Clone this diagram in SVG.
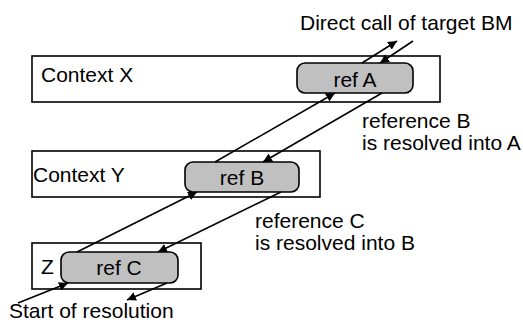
<svg xmlns="http://www.w3.org/2000/svg" width="523" height="327" viewBox="0 0 523 327">
  <defs>
    <marker id="arrow" viewBox="0 0 10 10" refX="10" refY="5" markerWidth="9" markerHeight="9" markerUnits="userSpaceOnUse" orient="auto">
      <path d="M0,0 L10,5 L0,10 z" fill="#000"/>
    </marker>
  </defs>
  <style>
    .ctx { fill: #fff; stroke: #000; stroke-width: 1.6; }
    .ref { fill: #c0c0c0; stroke: #000; stroke-width: 1.6; }
    .lbl { font-family: "Liberation Sans", Arial, sans-serif; font-size: 21px; fill: #000; }
    .mid { text-anchor: middle; }
    .conn line { stroke: #000; stroke-width: 1.6; marker-end: url(#arrow); }
  </style>
  <rect width="523" height="327" fill="#fff"/>

  <!-- contexts -->
  <g id="context-x">
    <rect class="ctx" x="32" y="56" width="408" height="46"/>
    <text class="lbl" x="41" y="82">Context X</text>
  </g>
  <g id="context-y">
    <rect class="ctx" x="32" y="151" width="288" height="46"/>
    <text class="lbl" x="33" y="182">Context Y</text>
  </g>
  <g id="context-z">
    <rect class="ctx" x="32" y="243" width="169" height="46"/>
    <text class="lbl" x="41" y="274">Z</text>
  </g>

  <!-- references -->
  <g id="ref-a">
    <rect class="ref" x="297" y="63" width="116" height="30" rx="8"/>
    <text class="lbl mid" x="355" y="87">ref A</text>
  </g>
  <g id="ref-b">
    <rect class="ref" x="185" y="162" width="114" height="30" rx="8"/>
    <text class="lbl mid" x="242" y="185">ref B</text>
  </g>
  <g id="ref-c">
    <rect class="ref" x="61" y="252" width="117" height="31" rx="8"/>
    <text class="lbl mid" x="119" y="275">ref C</text>
  </g>

  <!-- resolution steps -->
  <g id="connectors" class="conn">
    <line x1="18" y1="303" x2="68" y2="283"/>
    <line x1="167" y1="283" x2="127" y2="300"/>
    <line x1="77" y1="252" x2="197" y2="192"/>
    <line x1="281" y1="192" x2="158" y2="252"/>
    <line x1="215" y1="162" x2="335" y2="93"/>
    <line x1="382" y1="93" x2="263" y2="162"/>
    <line x1="362" y1="63" x2="397" y2="41"/>
    <line x1="413" y1="41" x2="380" y2="63"/>
  </g>

  <!-- annotations -->
  <g id="labels">
    <text class="lbl" x="300" y="30">Direct call of target BM</text>
    <text class="lbl" x="362" y="128">reference B</text>
    <text class="lbl" x="362" y="150">is resolved into A</text>
    <text class="lbl" x="255" y="228">reference C</text>
    <text class="lbl" x="255" y="250">is resolved into B</text>
    <text class="lbl" x="9" y="318">Start of resolution</text>
  </g>
</svg>
